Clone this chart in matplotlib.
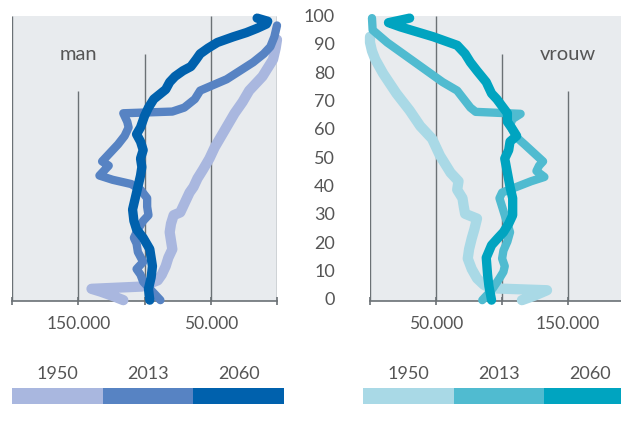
import matplotlib
matplotlib.use('Agg')
import matplotlib.pyplot as plt

m1950_age = [0, 1.5, 3, 4, 4.8, 7, 9, 12, 15, 18, 21, 24, 27, 30, 31, 33, 36, 38, 40, 43, 46, 50, 54, 58, 62, 66, 70, 74, 79, 82, 85, 89, 92]
m1950_val = [116, 124, 133, 140, 102, 90, 87, 84, 82, 79, 80, 81, 80, 78, 73, 71, 68, 66, 63, 60, 56, 51, 47, 42, 37, 32, 26, 21, 11, 7, 3, 1, 0]

m2013_age = [0, 3, 6.5, 9, 11, 13.5, 17, 20, 22, 25, 28, 30, 33, 36, 39, 41, 42.5, 44, 46, 47.5, 49, 52, 55, 58, 61, 63, 66, 66.6, 68, 71, 74, 78, 81, 84, 87, 89.5, 93, 97]
m2013_val = [88, 94, 101, 103, 106, 101, 105, 106, 108, 105, 101, 97, 98, 98, 103, 110, 124, 134, 130, 127, 132, 126, 120, 115, 112, 113, 116, 79, 70, 62, 58, 38, 28, 18, 10, 5, 2, 0]

m2060_age = [0, 4, 8, 12, 15, 18, 22, 25, 28, 32, 36, 40, 44, 47, 50, 53, 56, 58.6, 61, 65, 68, 71, 74.4, 77, 79, 81, 82.5, 85, 87, 89, 91, 93, 94.5, 96, 97.5, 98.5, 99.6]
m2060_val = [96, 97, 95, 94, 95, 96, 101, 106, 108, 109, 107, 105, 103, 102, 103, 101, 103, 106, 103, 100, 97, 93, 84, 81, 77, 71, 65, 61, 58, 52, 45, 33, 23, 15, 8, 7, 15]

w1950_age = [0, 1.5, 3.5, 4.2, 5.5, 7.7, 11, 14.7, 18, 21.8, 25, 28.8, 30.5, 33, 36, 39, 42, 45, 48, 51, 54, 57, 61.5, 67, 73, 80, 85, 88, 91, 93]
w1950_val = [115, 124, 134, 91, 86, 81, 77, 74, 75, 77, 79, 81, 72, 71, 70, 66, 67, 61, 57, 53, 50, 47, 38, 30, 20, 10, 4, 1.5, 0, 0]

w2013_age = [0, 2, 4.2, 7.7, 10, 12, 14.7, 17.5, 20.7, 24, 27, 30, 33, 36, 38, 40, 42, 43.5, 45.6, 47.5, 49, 52, 55, 57.5, 60, 62, 64, 65.8, 66.5, 68, 71, 74, 77, 81, 86, 91, 95.4, 99.6]
w2013_val = [85, 89, 93, 98, 101, 102, 100, 101, 104, 106, 104, 102, 100, 98, 100, 111, 122, 132, 126, 128, 131, 124, 117, 111, 108, 106, 108, 114, 80, 76, 71, 66, 55, 43, 28, 13, 2, 1.5]

w2060_age = [0, 5, 9, 15, 19.4, 22, 24, 27, 30, 33, 36, 40, 45, 50, 53, 56, 58, 61, 63, 66, 71, 73, 77, 81, 84, 87, 90, 93, 96.5, 98, 99.6]
w2060_val = [92, 90, 89, 88, 92, 97, 101, 105, 108, 108, 108, 106, 104, 102, 105, 106, 111, 107, 104, 104, 96, 92, 88, 81, 76, 72, 66, 48, 23, 14, 30]

jaren = ['1950', '2013', '2060']
kleur_man = ['#a9b7df', '#5783c3', '#0061ad']
kleur_vrouw = ['#a9d9e6', '#50bbd0', '#00a4c0']
dikte = [7.4, 6.0, 6.7]

plt.rcParams['font.family'] = ['Lato', 'DejaVu Sans']
tekst = '#555555'
achtergrond = '#e8ebee'
lijnkleur = '#6b7175'

W, H = 621, 432
fig = plt.figure(figsize=(W / 100, H / 100), dpi=100)

ax_m = fig.add_axes([12 / W, 131 / H, 265 / W, 285 / H])
ax_v = fig.add_axes([370 / W, 131 / H, 251 / W, 285 / H])

for ax in (ax_m, ax_v):
    ax.set_facecolor(achtergrond)
    ax.set_ylim(-0.3, 100.35)
    for s in ('left', 'right', 'top'):
        ax.spines[s].set_visible(False)
    ax.spines['bottom'].set_color(lijnkleur)
    ax.spines['bottom'].set_linewidth(1.2)
    ax.set_xticks([50, 150])
    ax.set_xticklabels(['50.000', '150.000'])
    ax.set_xticks([0, 100, 200], minor=True)
    ax.tick_params(axis='x', which='both', direction='inout', length=6, width=1.2,
                   color=lijnkleur, labelsize=12.5, labelcolor=tekst, pad=8)
    ax.set_yticks([])

ax_m.set_xlim(200, 0)
ax_v.set_xlim(0, 190)

# verticale hulplijnen (trapvormig)
ax_m.vlines([200, 50, 0], -0.3, 100.35, color=lijnkleur, lw=1, zorder=1)
ax_m.vlines(150, -0.3, 73.7, color=lijnkleur, lw=1, zorder=1)
ax_m.vlines(100, -0.3, 87, color=lijnkleur, lw=1, zorder=1)
ax_v.vlines([0, 50], -0.3, 100.35, color=lijnkleur, lw=1, zorder=1)
ax_v.vlines(100, -0.3, 87, color=lijnkleur, lw=1, zorder=1)
ax_v.vlines(150, -0.3, 73.7, color=lijnkleur, lw=1, zorder=1)

man = [(m1950_age, m1950_val), (m2013_age, m2013_val), (m2060_age, m2060_val)]
vrouw = [(w1950_age, w1950_val), (w2013_age, w2013_val), (w2060_age, w2060_val)]
for i in range(3):
    ax_m.plot(man[i][1], man[i][0], color=kleur_man[i], lw=dikte[i],
              solid_capstyle='round', solid_joinstyle='round', clip_on=False, zorder=3 + i)
    ax_v.plot(vrouw[i][1], vrouw[i][0], color=kleur_vrouw[i], lw=dikte[i],
              solid_capstyle='round', solid_joinstyle='round', clip_on=False, zorder=3 + i)

ax_m.text(150, 86.7, 'man', ha='center', va='center', fontsize=14.5, color=tekst)
ax_v.text(150, 86.7, 'vrouw', ha='center', va='center', fontsize=14.5, color=tekst)

# leeftijden in het midden
for a in range(0, 101, 10):
    ax_v.text(-35 / 251 * 190, a, str(a), ha='right', va='center', fontsize=13, color=tekst)

# legenda als gekleurde balken
leg_m = fig.add_axes([12 / W, (H - 404) / H, 272 / W, 16 / H])
leg_v = fig.add_axes([363 / W, (H - 404) / H, 258 / W, 16 / H])
for leg, kleuren, breedte in ((leg_m, kleur_man, 272), (leg_v, kleur_vrouw, 258)):
    leg.bar(range(3), [1, 1, 1], width=1, align='edge', color=kleuren)
    leg.set_xlim(0, breedte / 90.7)
    leg.set_ylim(0, 1)
    leg.axis('off')
    for i, j in enumerate(jaren):
        leg.text(i + 0.5, 1.9, j, ha='center', va='center', fontsize=13, color=tekst)

fig.savefig('out.png', dpi=100)
